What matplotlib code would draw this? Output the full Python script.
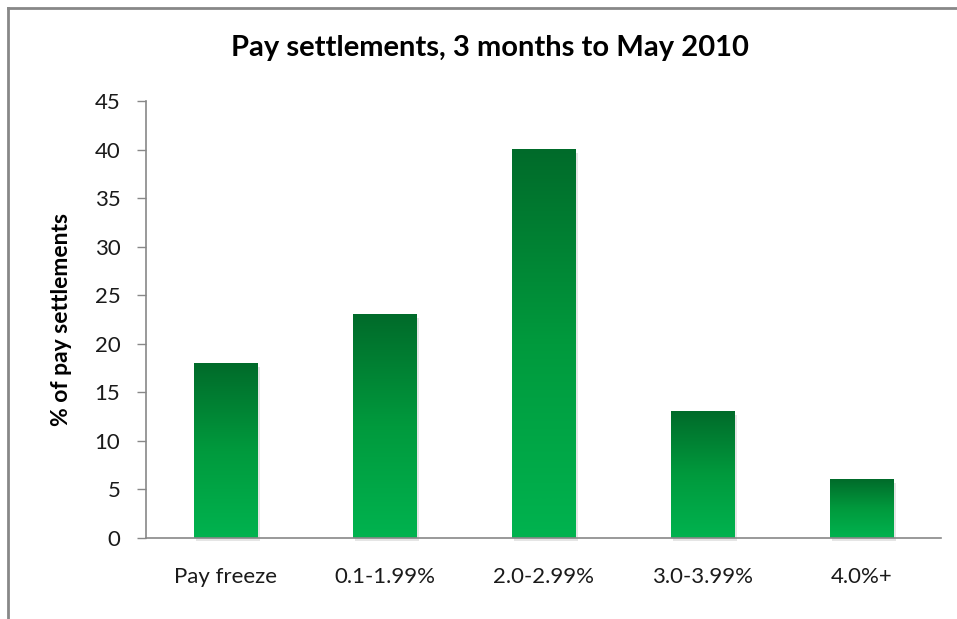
import numpy as np
import matplotlib.pyplot as plt
from matplotlib.colors import LinearSegmentedColormap
from matplotlib.lines import Line2D

categories = ['Pay freeze', '0.1-1.99%', '2.0-2.99%', '3.0-3.99%', '4.0%+']
values = [18, 23, 40, 13, 6]
yticks = [0, 5, 10, 15, 20, 25, 30, 35, 40, 45]

plt.rcParams['font.family'] = ['Lato', 'DejaVu Sans']

W, H = 957, 619
fig = plt.figure(figsize=(W / 100, H / 100), dpi=100)
ax = fig.add_axes([146 / W, 1 - 538 / H, (941 - 146) / W, (538 - 101) / H])

cmap = LinearSegmentedColormap.from_list('g', ['#00B34F', '#009A3D', '#006B2A'])
grad = np.linspace(0, 1, 256).reshape(-1, 1)
x = np.arange(len(categories))
width = 0.4
for xi, v in zip(x, values):
    # soft shadow
    ax.add_patch(plt.Rectangle((xi - width / 2 + 0.015, -0.35), width, v,
                               color='#cccccc', alpha=0.5, zorder=1, lw=0, clip_on=False))
    ax.imshow(grad, cmap=cmap, origin='lower', aspect='auto',
              extent=[xi - width / 2, xi + width / 2, 0, v], zorder=2)

ax.set_xlim(-0.5, len(categories) - 0.5)
ax.set_ylim(0, 45)
ax.set_yticks(yticks)
ax.set_xticks(x)
ax.set_xticklabels(categories)
ax.tick_params(axis='x', length=0, pad=21, labelsize=16, colors='#1a1a1a')
ax.tick_params(axis='y', length=6.5, width=1, color='#888888', pad=12, labelsize=16,
               labelcolor='#1a1a1a')
for s in ['top', 'right']:
    ax.spines[s].set_visible(False)
for s in ['left', 'bottom']:
    ax.spines[s].set_color('#888888')
    ax.spines[s].set_linewidth(1.2)

ax.set_ylabel('% of pay settlements', fontsize=16.5, fontweight='bold')
ax.yaxis.set_label_coords((72 - 146) / 795, 0.5)
fig.text(490 / W, 1 - 48 / H, 'Pay settlements, 3 months to May 2010',
         ha='center', va='center', fontsize=21, fontweight='bold')

# outer frame (only top and left visible in the crop)
fig.add_artist(Line2D([8 / W, 1], [1 - 8 / H, 1 - 8 / H], color='#888888', lw=2))
fig.add_artist(Line2D([8 / W, 8 / W], [0, 1 - 8 / H], color='#888888', lw=2))

fig.savefig('out.png', dpi=100)
